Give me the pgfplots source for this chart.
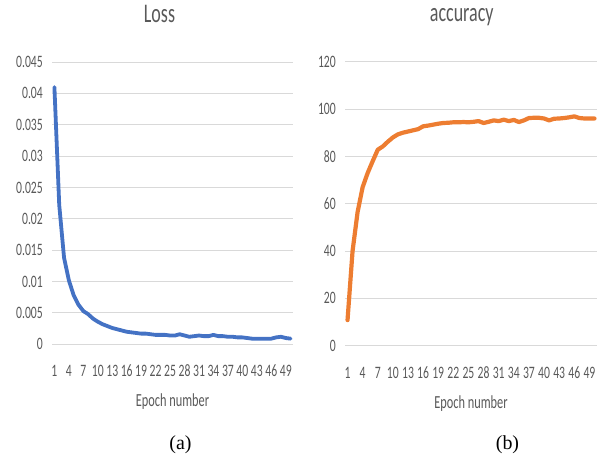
\documentclass[border=0pt]{standalone}
\usepackage{fontspec}
\setmainfont{Liberation Serif}
\newfontfamily\carl[FakeStretch=0.67]{Carlito}
\usepackage{pgfplots}
\pgfplotsset{compat=1.18}
\usepackage{pgfplotstable}
\definecolor{tickgray}{HTML}{595959}
\definecolor{gridgray}{HTML}{D9D9D9}
\definecolor{exblue}{HTML}{4472C4}
\definecolor{exorange}{HTML}{ED7D31}

\pgfplotstableread{
ep loss
1 0.0410
2 0.0222
3 0.0138
4 0.0102
5 0.0078
6 0.0063
7 0.0053
8 0.0048
9 0.0041
10 0.0036
11 0.0032
12 0.0029
13 0.0026
14 0.0024
15 0.0022
16 0.0020
17 0.0019
18 0.0018
19 0.0017
20 0.0017
21 0.0016
22 0.0015
23 0.0015
24 0.0015
25 0.0014
26 0.0014
27 0.0016
28 0.0014
29 0.0012
30 0.0013
31 0.0014
32 0.0013
33 0.0013
34 0.0015
35 0.0013
36 0.0013
37 0.0012
38 0.0012
39 0.0011
40 0.0011
41 0.0010
42 0.0009
43 0.0009
44 0.0009
45 0.0009
46 0.0009
47 0.0011
48 0.0012
49 0.0010
50 0.0009
}\losstable

\pgfplotstableread{
ep acc
1 10.8
2 40
3 56.5
4 67
5 73
6 78
7 82.8
8 84.2
9 86.2
10 88
11 89.3
12 90
13 90.5
14 91
15 91.5
16 92.7
17 93
18 93.4
19 93.8
20 94.1
21 94.2
22 94.4
23 94.4
24 94.5
25 94.4
26 94.6
27 94.9
28 94.1
29 94.6
30 95.2
31 94.9
32 95.5
33 94.9
34 95.4
35 94.5
36 95.2
37 96.2
38 96.3
39 96.3
40 96
41 95.2
42 95.9
43 96
44 96.2
45 96.5
46 96.9
47 96.2
48 96
49 96
50 96
}\acctable

\pgfplotsset{
  excel/.style={
    scale only axis,
    anchor=south west,
    xmin=0.5, xmax=50.5,
    scaled y ticks=false,
    axis line style={draw=none},
    major tick length=0pt,
    ymajorgrids,
    grid style={draw=gridgray, line width=0.9bp},
    xtick={1,4,7,10,13,16,19,22,25,28,31,34,37,40,43,46,49},
    xticklabels={1,4,7,10,13,16,19,22,25,28,31,34,37,40,43,46,49},
    tick label style={font=\carl\fontsize{17.5}{17.5}\selectfont, text=tickgray},
    yticklabel style={anchor=east, inner sep=0pt, xshift=-9bp},
    xticklabel style={anchor=base, inner sep=0pt, yshift=-32.4bp},
    title style={font=\carl\fontsize{27}{27}\selectfont, text=tickgray, anchor=base, at={(0.5,1)}, inner sep=0pt},
    xlabel style={font=\carl\fontsize{18.5}{18.5}\selectfont, text=tickgray, anchor=base, at={(0.5,0)}, inner sep=0pt, yshift=-62.5bp},
    xlabel={Epoch number},
  }
}

\begin{document}
\begin{tikzpicture}
\useasboundingbox (0,0) rectangle (598bp,455bp);
\begin{axis}[excel,
  at={(52bp,110.7bp)}, width=241bp, height=282.3bp,
  ymin=0, ymax=0.045,
  ytick={0,0.005,0.01,0.015,0.02,0.025,0.03,0.035,0.04,0.045},
  yticklabels={0,0.005,0.01,0.015,0.02,0.025,0.03,0.035,0.04,0.045},
  title={Loss},
  title style={yshift=34bp, xshift=-13bp},
]
\addplot[exblue, line width=3.8bp, line join=round, line cap=round] table[x=ep, y=loss] {\losstable};
\end{axis}
\begin{axis}[excel,
  at={(345bp,109.3bp)}, width=252bp, height=284bp,
  ymin=0, ymax=120,
  ytick={0,20,40,60,80,100,120},
  yticklabels={0,20,40,60,80,100,120},
  title={accuracy},
  title style={yshift=34bp, xshift=-9.3bp},
]
\addplot[exorange, line width=4.2bp, line join=round, line cap=round] table[x=ep, y=acc] {\acctable};
\end{axis}
\node[anchor=base, font=\fontsize{20}{20}\selectfont] at (180.5bp,6bp) {(a)};
\node[anchor=base, font=\fontsize{20}{20}\selectfont] at (507.5bp,6bp) {(b)};
\end{tikzpicture}
\end{document}
